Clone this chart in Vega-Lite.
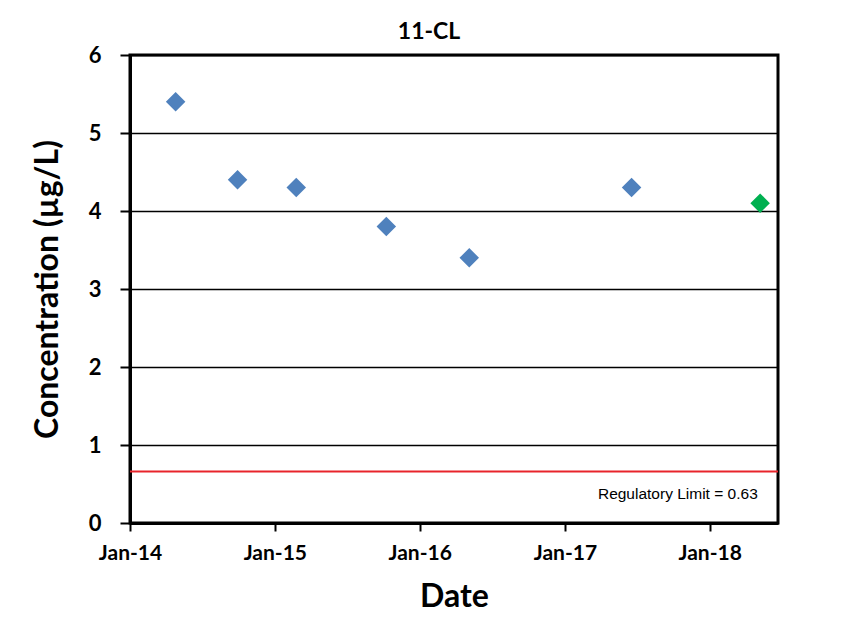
{
  "$schema": "https://vega.github.io/schema/vega-lite/v6.json",
  "autosize": "none",
  "width": 648,
  "height": 468,
  "padding": {"left": 130, "top": 55, "right": 70, "bottom": 98},
  "background": "white",
  "title": {"text": "11-CL", "font": "Lato", "fontSize": 23, "fontWeight": "bold", "color": "black", "anchor": "middle", "dx": -25, "offset": 0},
  "config": {
    "view": {"stroke": "black", "strokeWidth": 3},
    "axis": {"labelFont": "Lato", "titleFont": "Lato", "labelColor": "black", "titleColor": "black", "labelFontWeight": "bold", "titleFontWeight": "bold"},
    "axisX": {
      "title": "Date", "titleFontSize": 32, "titlePadding": 18,
      "format": "%b-%y", "formatType": "utc",
      "labelFontSize": 21, "labelPadding": 11,
      "grid": false, "domainColor": "black", "domainWidth": 3,
      "tickColor": "black", "tickWidth": 2, "tickSize": 8, "labelFlush": false
    },
    "axisY": {
      "title": "Concentration (µg/L)", "titleFontSize": 32, "titlePadding": 24,
      "format": "d",
      "labelFontSize": 22, "labelPadding": 19,
      "grid": true, "gridColor": "black", "gridWidth": 1.5, "gridOpacity": 1,
      "domainColor": "black", "domainWidth": 3,
      "tickColor": "black", "tickWidth": 2, "tickSize": 10
    }
  },
  "datasets": {
    "pts": [
      {"date": "2014-04-26", "conc": 5.4, "group": "past"},
      {"date": "2014-09-29", "conc": 4.4, "group": "past"},
      {"date": "2015-02-24", "conc": 4.3, "group": "past"},
      {"date": "2015-10-09", "conc": 3.8, "group": "past"},
      {"date": "2016-05-05", "conc": 3.4, "group": "past"},
      {"date": "2017-06-18", "conc": 4.3, "group": "past"},
      {"date": "2018-05-08", "conc": 4.1, "group": "latest"}
    ],
    "limit": [{"conc": 0.66}],
    "label": [{"date": "2018-05-02", "conc": 0.37, "text": "Regulatory Limit = 0.63"}]
  },
  "layer": [
    {
      "data": {"name": "limit"},
      "mark": {"type": "rule", "color": "#E8242B", "strokeWidth": 2},
      "encoding": {
        "y": {"field": "conc", "type": "quantitative", "scale": {"domain": [0, 6]}, "axis": {"values": [0, 1, 2, 3, 4, 5, 6], "title": "Concentration (µg/L)", "format": "d"}}
      }
    },
    {
      "data": {"name": "pts"},
      "mark": {"type": "point", "shape": "diamond", "filled": true, "size": 380, "opacity": 1},
      "encoding": {
        "x": {
          "field": "date", "type": "temporal",
          "scale": {"type": "utc", "domain": [{"year": 2014, "month": 1, "date": 1, "utc": true}, {"year": 2018, "month": 6, "date": 22, "utc": true}]},
          "axis": {
            "title": "Date",
            "format": "%b-%y", "formatType": "utc",
            "values": [
              {"year": 2014, "month": 1, "date": 1, "utc": true},
              {"year": 2015, "month": 1, "date": 1, "utc": true},
              {"year": 2016, "month": 1, "date": 1, "utc": true},
              {"year": 2017, "month": 1, "date": 1, "utc": true},
              {"year": 2018, "month": 1, "date": 1, "utc": true}
            ]
          }
        },
        "y": {
          "field": "conc", "type": "quantitative",
          "scale": {"domain": [0, 6]},
          "axis": {"values": [0, 1, 2, 3, 4, 5, 6], "title": "Concentration (µg/L)", "format": "d"}
        },
        "color": {
          "field": "group", "type": "nominal",
          "scale": {"domain": ["past", "latest"], "range": ["#4F81BD", "#00B050"]},
          "legend": null
        }
      }
    },
    {
      "data": {"name": "label"},
      "mark": {"type": "text", "align": "right", "baseline": "middle", "font": "Liberation Sans", "fontSize": 15.5, "color": "black"},
      "encoding": {
        "x": {"field": "date", "type": "temporal", "axis": {"title": "Date", "format": "%b-%y", "formatType": "utc"}},
        "y": {"field": "conc", "type": "quantitative", "axis": {"values": [0, 1, 2, 3, 4, 5, 6], "title": "Concentration (µg/L)", "format": "d"}},
        "text": {"field": "text"}
      }
    }
  ]
}
